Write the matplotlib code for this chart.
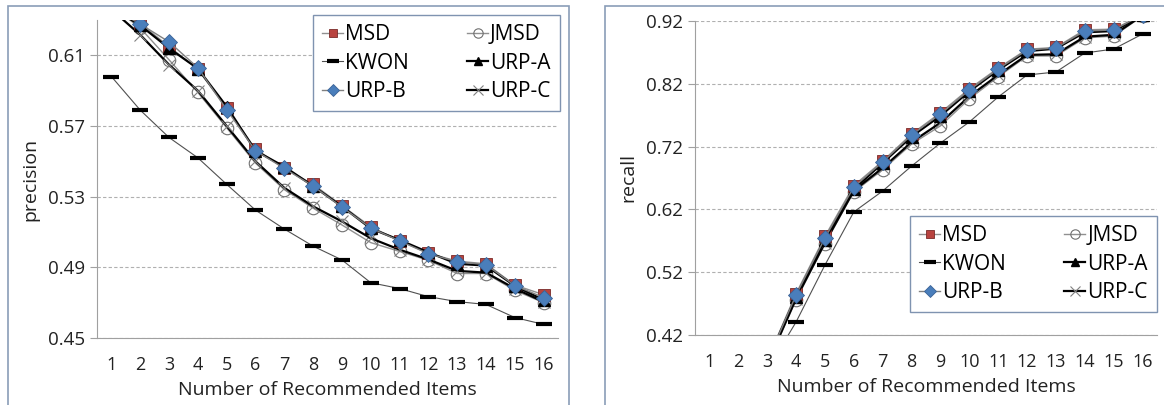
import matplotlib
matplotlib.use('Agg')
import matplotlib.pyplot as plt
from matplotlib.patches import Rectangle

plt.rcParams['font.family'] = ['Open Sans', 'DejaVu Sans']

# precision (left), items 1..16
items = list(range(1, 17))
prec_msd = [0.637, 0.628, 0.615, 0.602, 0.580, 0.557, 0.546, 0.537, 0.525, 0.513, 0.505, 0.498, 0.4935, 0.492, 0.480, 0.4745]
prec_jmsd = [0.638, 0.6255, 0.6075, 0.589, 0.569, 0.549, 0.534, 0.5235, 0.514, 0.504, 0.499, 0.494, 0.4865, 0.4865, 0.477, 0.470]
prec_kwon = [0.598, 0.579, 0.5635, 0.552, 0.537, 0.5224, 0.5117, 0.502, 0.4942, 0.4813, 0.478, 0.4734, 0.4706, 0.469, 0.4616, 0.4577]
prec_urpa = [0.637, 0.627, 0.614, 0.6025, 0.581, 0.556, 0.547, 0.536, 0.5245, 0.512, 0.5055, 0.4985, 0.492, 0.491, 0.4795, 0.4715]
prec_urpb = [0.637, 0.6277, 0.6176, 0.603, 0.5793, 0.556, 0.546, 0.536, 0.5241, 0.5123, 0.505, 0.4977, 0.4932, 0.4915, 0.4797, 0.4729]
prec_urpc = [0.636, 0.6216, 0.6047, 0.590, 0.570, 0.550, 0.535, 0.5245, 0.516, 0.5065, 0.500, 0.4945, 0.488, 0.487, 0.478, 0.4705]

# recall (right), items 3..16
rec_items = list(range(3, 17))
rec_msd = [0.380, 0.486, 0.577, 0.658, 0.697, 0.740, 0.774, 0.812, 0.845, 0.875, 0.878, 0.906, 0.907, 0.930]
rec_jmsd = [0.372, 0.476, 0.565, 0.648, 0.683, 0.724, 0.753, 0.796, 0.831, 0.8643, 0.8643, 0.893, 0.896, 0.928]
rec_kwon = [0.364, 0.4407, 0.5314, 0.616, 0.6493, 0.689, 0.7257, 0.7592, 0.799, 0.834, 0.8388, 0.869, 0.8754, 0.8993]
rec_urpa = [0.378, 0.481, 0.572, 0.652, 0.694, 0.736, 0.769, 0.808, 0.842, 0.872, 0.876, 0.902, 0.904, 0.929]
rec_urpb = [0.378, 0.4837, 0.5745, 0.6557, 0.6955, 0.7385, 0.772, 0.810, 0.8436, 0.8738, 0.877, 0.904, 0.9057, 0.930]
rec_urpc = [0.374, 0.478, 0.567, 0.650, 0.686, 0.727, 0.758, 0.800, 0.834, 0.866, 0.867, 0.895, 0.898, 0.929]

prec_ticks = [0.45, 0.49, 0.53, 0.57, 0.61]
rec_ticks = [0.42, 0.52, 0.62, 0.72, 0.82, 0.92]

fig = plt.figure(figsize=(11.64, 4.05), dpi=100)

# chart area frames
for x0, x1 in [(8, 569), (605, 1170)]:
    fig.patches.append(Rectangle((x0 / 1164, -0.1), (x1 - x0) / 1164, 1.1 - 6 / 405,
                                 transform=fig.transFigure, fill=False,
                                 edgecolor='#8A9DB8', linewidth=1.2))

ax1 = fig.add_axes([97 / 1164, 67 / 405, 461 / 1164, 318 / 405])
ax2 = fig.add_axes([695 / 1164, 70 / 405, 462 / 1164, 314 / 405])


def draw(ax, x, msd, jmsd, kwon, urpa, urpb, urpc):
    ax.plot(x, kwon, color='#505050', lw=0.8, marker='_', ms=11, mew=3, mec='black', label='KWON')
    ax.plot(x, jmsd, color='#909090', lw=1.0, marker='o', ms=9, mfc='none', mec='#707070', mew=0.8, label='JMSD')
    ax.plot(x, urpc, color='black', lw=1.6, marker='x', ms=9, mec='#808080', mew=0.8, label='URP-C')
    ax.plot(x, msd, color='#909090', lw=1.0, marker='s', ms=8, mfc='#B8433F', mec='#7A2A28', mew=0.6, label='MSD')
    ax.plot(x, urpa, color='black', lw=1.6, marker='^', ms=8, mfc='black', mec='black', label='URP-A')
    ax.plot(x, urpb, color='#808080', lw=1.0, marker='D', ms=8, mfc='#4A7EBB', mec='#3A6296', mew=0.6, label='URP-B')
    ax.set_xlim(0.5, 16.5)
    ax.set_xticks(items)
    ax.tick_params(axis='x', length=0, labelsize=13, pad=13, colors='#222222')
    ax.tick_params(axis='y', length=5, color='#A0A0A0', labelsize=13.5, colors='#222222')
    ax.spines['top'].set_visible(False)
    ax.spines['right'].set_visible(False)
    ax.spines['left'].set_color('#A0A0A0')
    ax.spines['bottom'].set_color('#A0A0A0')
    ax.grid(axis='y', linestyle=(0, (3, 2)), color='#B0B0B0', lw=0.8)
    ax.set_axisbelow(True)
    ax.set_xlabel('Number of Recommended Items', fontsize=14, color='#222222', labelpad=5)


draw(ax1, items, prec_msd, prec_jmsd, prec_kwon, prec_urpa, prec_urpb, prec_urpc)
ax1.set_ylim(0.45, 0.63)
ax1.set_yticks(prec_ticks)
ax1.set_yticklabels(['%.2f' % t for t in prec_ticks])
ax1.set_ylabel('precision', fontsize=14, color='#222222', labelpad=6)

draw(ax2, rec_items, rec_msd, rec_jmsd, rec_kwon, rec_urpa, rec_urpb, rec_urpc)
ax2.set_ylim(0.42, 0.92)
ax2.set_yticks(rec_ticks)
ax2.set_yticklabels(['%.2f' % t for t in rec_ticks])
ax2.set_ylabel('recall', fontsize=14, color='#222222', labelpad=6)

order = ['MSD', 'KWON', 'URP-B', 'JMSD', 'URP-A', 'URP-C']
for ax, anchor in [(ax1, (560 / 1164, 1 - 15 / 405)), (ax2, (1157 / 1164, 1 - 216 / 405))]:
    h, l = ax.get_legend_handles_labels()
    hd = dict(zip(l, h))
    leg = ax.legend([hd[k] for k in order], order, ncol=2, loc='upper right',
                    bbox_to_anchor=anchor, bbox_transform=fig.transFigure,
                    fontsize=15, handlelength=1.0, handletextpad=0.1, markerscale=0.75,
                    columnspacing=2.8, labelspacing=0.35, borderpad=0.45,
                    fancybox=False, framealpha=1, borderaxespad=0)
    leg.get_frame().set_edgecolor('#7F93B0')
    leg.get_frame().set_linewidth(1.0)

fig.savefig('out.png', dpi=100)
